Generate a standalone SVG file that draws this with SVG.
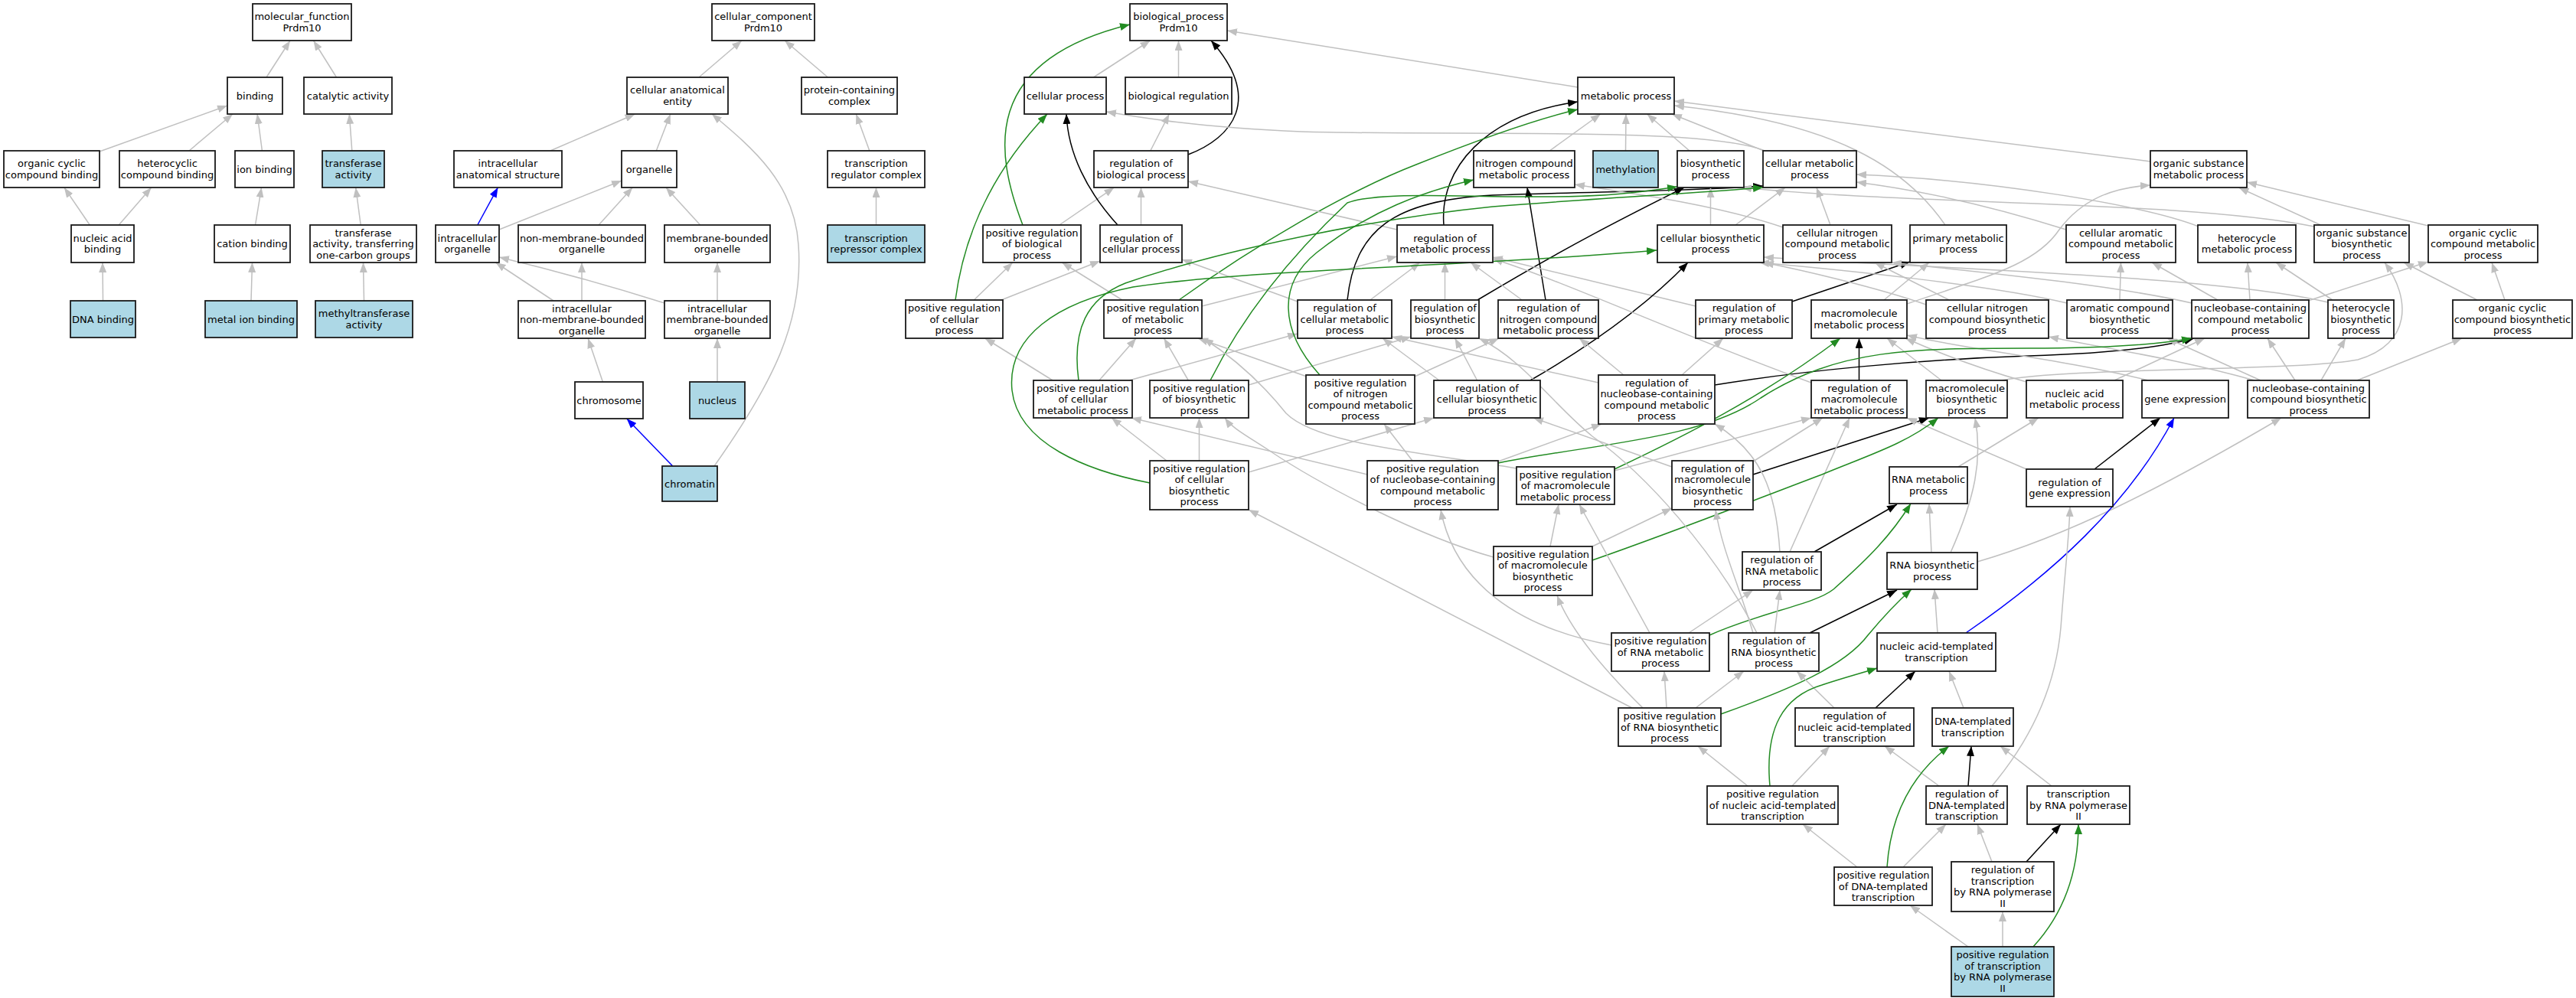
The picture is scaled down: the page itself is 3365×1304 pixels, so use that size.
<svg xmlns="http://www.w3.org/2000/svg" width="3365" height="1304" viewBox="0 0 3365 1304">
<style>
.box{fill:#fff;stroke:#1a1a1a;stroke-width:1.8}
.blue{fill:#add8e6}
text{font-family:"DejaVu Sans","Liberation Sans",sans-serif;font-size:13px;text-anchor:middle;fill:#000}
.e{fill:none;stroke:#c0c0c0;stroke-width:1.5;marker-end:url(#ag)}
.k{fill:none;stroke:#000;stroke-width:1.5;marker-end:url(#ak)}
.gr{fill:none;stroke:#228b22;stroke-width:1.5;marker-end:url(#agr)}
.b{fill:none;stroke:#0000ff;stroke-width:1.5;marker-end:url(#ab)}
</style>
<defs>
<marker id="ag" viewBox="0 0 13 10" refX="13" refY="5" markerWidth="13" markerHeight="10" markerUnits="userSpaceOnUse" orient="auto"><path d="M0,0 L13,5 L0,10 z" fill="#c0c0c0"/></marker>
<marker id="ak" viewBox="0 0 13 10" refX="13" refY="5" markerWidth="13" markerHeight="10" markerUnits="userSpaceOnUse" orient="auto"><path d="M0,0 L13,5 L0,10 z" fill="#000"/></marker>
<marker id="agr" viewBox="0 0 13 10" refX="13" refY="5" markerWidth="13" markerHeight="10" markerUnits="userSpaceOnUse" orient="auto"><path d="M0,0 L13,5 L0,10 z" fill="#228b22"/></marker>
<marker id="ab" viewBox="0 0 13 10" refX="13" refY="5" markerWidth="13" markerHeight="10" markerUnits="userSpaceOnUse" orient="auto"><path d="M0,0 L13,5 L0,10 z" fill="#0000ff"/></marker>
</defs>
<rect width="3365" height="1304" fill="#fff"/>
<g id="edges">
<path class="e" d="M348,101 L379,53"/>
<path class="e" d="M439.5,101 L409.5,53"/>
<path class="e" d="M130,198 L297,138"/>
<path class="e" d="M247,197 L304,149"/>
<path class="e" d="M342.4,197 L336.1,149"/>
<path class="e" d="M459.8,197 L456.3,149"/>
<path class="e" d="M117.3,294 L83.9,245"/>
<path class="e" d="M155.2,294 L197.7,245"/>
<path class="e" d="M333.5,294 L341.6,245"/>
<path class="e" d="M471.2,294 L464.7,245"/>
<path class="e" d="M134.5,393 L134,343"/>
<path class="e" d="M328,393 L329.5,343"/>
<path class="e" d="M475.5,393 L474.5,343"/>
<path class="e" d="M913,101 L969,53"/>
<path class="e" d="M1081.4,101 L1025.1,53"/>
<path class="e" d="M718.9,197 L829.6,149"/>
<path class="e" d="M857.3,197 L875.8,149"/>
<path class="e" d="M1135.8,197 L1118.3,149"/>
<path class="e" d="M1144.5,294 L1144.5,245"/>
<path class="b" d="M623.8,294 L650.4,245"/>
<path class="e" d="M652,300 L812,236"/>
<path class="e" d="M782.1,294 L826.3,245"/>
<path class="e" d="M914.7,294 L869.9,245"/>
<path class="e" d="M723,393 L647.5,343"/>
<path class="e" d="M760,393 L760,343"/>
<path class="e" d="M868,396 Q760,362 652,336"/>
<path class="e" d="M937,393 L937,343"/>
<path class="e" d="M787.4,499 L768.1,442"/>
<path class="e" d="M937,499 L937,442"/>
<path class="b" d="M878.7,609 L818.7,547"/>
<path class="e" d="M933,609 C1010,500 1050,420 1043,320 C1038,240 985,195 930,149"/>
<path class="e" d="M1428.5,101 L1502.5,53"/>
<path class="e" d="M1539.5,101 L1539.5,53"/>
<path class="e" d="M2061,114 L1603,40"/>
<path class="k" d="M1552,202 C1610,180 1650,130 1582,53"/>
<path class="e" d="M1502.8,197 L1527.3,149"/>
<path class="gr" d="M1336,294 C1300,200 1280,80 1476,32"/>
<path class="e" d="M1383.8,294 L1455.4,245"/>
<path class="e" d="M1490.5,294 L1490.5,245"/>
<path class="k" d="M1460,294 C1420,250 1395,200 1393,149"/>
<path class="e" d="M1272.3,392 L1322.8,343"/>
<path class="e" d="M1308,392 L1437,341"/>
<path class="gr" d="M1248,392 C1260,300 1300,220 1368,149"/>
<path class="e" d="M2305,197 C2230,165 1900,178 1700,172 C1560,166 1480,152 1445,146"/>
<path class="e" d="M2024.3,197 L2090.8,149"/>
<path class="e" d="M2123.5,197 L2124,149"/>
<path class="e" d="M2206.9,197 L2151.6,149"/>
<path class="e" d="M2304,197 L2184,149"/>
<path class="e" d="M2809,211 C2700,196 2400,160 2187,132"/>
<path class="e" d="M2541,294 C2490,220 2400,160 2187,138"/>
<path class="k" d="M1886,294 C1880,220 1940,150 2061,133"/>
<path class="gr" d="M1540,392 C1640,320 1760,250 1850,215 C1950,175 2010,155 2061,143"/>
<path class="e" d="M1825,300 L1552,237"/>
<path class="e" d="M1466,392 L1387.3,343"/>
<path class="e" d="M1570,400 L1825,335"/>
<path class="k" d="M1760,392 C1770,300 1820,262 1950,255 C2100,250 2200,250 2303,243"/>
<path class="e" d="M1789.8,392 L1854.9,343"/>
<path class="e" d="M1695,394 L1544,339"/>
<path class="k" d="M1930,392 C2050,320 2130,280 2200,245"/>
<path class="e" d="M1887.5,392 L1887.5,343"/>
<path class="k" d="M2019,392 L1995,245"/>
<path class="e" d="M1988.2,392 L1921.1,343"/>
<path class="k" d="M2341,394 L2495,342"/>
<path class="e" d="M2215,400 L1950,336"/>
<path class="e" d="M2234.5,294 L2234.5,245"/>
<path class="e" d="M2267,294 L2332.1,245"/>
<path class="e" d="M2391,294 L2372.9,245"/>
<path class="e" d="M2329,297 C2250,270 2150,255 2057,241"/>
<path class="e" d="M2699,300 C2620,275 2520,250 2425,238"/>
<path class="e" d="M2872,296 C2800,268 2600,235 2425,228"/>
<path class="e" d="M3031.5,294 L2924.4,245"/>
<path class="e" d="M3023,296 C2850,262 2500,268 2275,245"/>
<path class="e" d="M3172,295 L2935,238"/>
<path class="e" d="M2491,397 C2600,360 2660,345 2690,300 C2720,260 2760,245 2809,242"/>
<path class="e" d="M2461,392 L2520,343"/>
<path class="e" d="M2546.3,392 L2448.8,343"/>
<path class="e" d="M2516,398 C2450,375 2350,352 2304,343"/>
<path class="e" d="M2769,392 L2770.5,343"/>
<path class="e" d="M2700,396 C2600,372 2400,352 2298,343"/>
<path class="e" d="M2897,392 L2811,343"/>
<path class="e" d="M2939,392 L2936,343"/>
<path class="e" d="M3015,393 L3172,342"/>
<path class="e" d="M2863,396 C2750,370 2550,352 2471,343"/>
<path class="e" d="M3047,392 L2973,343"/>
<path class="e" d="M3041,395 C2900,360 2500,350 2304,336"/>
<path class="e" d="M3272,392 L3255,343"/>
<path class="e" d="M3236,392 L3140,343"/>
<path class="e" d="M1435.9,497 L1484.1,442"/>
<path class="e" d="M1375.1,497 L1286.7,442"/>
<path class="e" d="M1475,497 L1695,436"/>
<path class="gr" d="M1409,497 C1400,430 1420,390 1470,370 C1600,325 1800,285 1950,270 C2100,258 2220,252 2303,245"/>
<path class="e" d="M1552.3,497 L1520.5,442"/>
<path class="e" d="M1631,503 L1843,440"/>
<path class="gr" d="M1581,497 C1620,420 1680,340 1760,265 C1800,250 1900,257 2000,257 C2100,258 2150,250 2191,244"/>
<path class="e" d="M1707,492 L1565,442"/>
<path class="e" d="M1848,492 L1958,442"/>
<path class="gr" d="M1724,490 C1670,430 1670,370 1720,330 C1790,275 1860,250 1925,235"/>
<path class="e" d="M1929.6,497 L1900.6,442"/>
<path class="e" d="M1880,497 L1806,442"/>
<path class="k" d="M1999,497 C2080,450 2150,400 2205,343"/>
<path class="e" d="M2121,490 L2063,442"/>
<path class="e" d="M2197,490 L2251,442"/>
<path class="e" d="M2088,500 L1818,440"/>
<path class="k" d="M2240,503 C2350,485 2500,470 2650,465 C2750,462 2820,455 2866,442"/>
<path class="e" d="M2366,500 C2200,440 2050,370 1950,338"/>
<path class="k" d="M2428.5,497 L2428.5,442"/>
<path class="e" d="M2536,497 L2465,442"/>
<path class="e" d="M2615,497 C2700,480 3000,485 3080,470 C3150,450 3150,390 3115,343"/>
<path class="e" d="M2762,497 L2880,442"/>
<path class="e" d="M2647,499 C2580,480 2530,460 2489,442"/>
<path class="e" d="M2806,497 C2700,470 2560,455 2491,438"/>
<path class="e" d="M2998,497 L2962,442"/>
<path class="e" d="M3032,497 L3064,442"/>
<path class="e" d="M3079,497 L3216,442"/>
<path class="e" d="M2953,497 L2831,442"/>
<path class="e" d="M2945,497 C2850,470 2750,455 2676,440"/>
<path class="e" d="M1524,602 L1452,546"/>
<path class="e" d="M1566.5,602 L1566.5,546"/>
<path class="e" d="M1631,617 L1873,546"/>
<path class="gr" d="M1502,631 C1420,615 1330,580 1322,510 C1315,440 1380,395 1480,375 C1650,350 1900,350 2164,327"/>
<path class="e" d="M1786,620 L1478,546"/>
<path class="e" d="M1845,602 L1808,554"/>
<path class="e" d="M1957,603 L2092,554"/>
<path class="gr" d="M1957,605 C2080,580 2220,575 2300,520 C2400,455 2500,455 2650,455 C2750,455 2820,450 2863,442"/>
<path class="e" d="M1981,612 C1850,590 1720,580 1680,540 C1640,490 1600,460 1572,442"/>
<path class="e" d="M2109,615 L2366,546"/>
<path class="gr" d="M2109,613 C2200,570 2300,520 2404,442"/>
<path class="e" d="M2290,603 L2381,546"/>
<path class="e" d="M2184,610 L2003,546"/>
<path class="k" d="M2290,620 L2520,546"/>
<path class="e" d="M2558,610 L2663,546"/>
<path class="e" d="M2325,721 C2320,640 2300,590 2240,554"/>
<path class="e" d="M2338,721 L2416,546"/>
<path class="k" d="M2370,721 L2478,659"/>
<path class="e" d="M2647,613 L2491,546"/>
<path class="k" d="M2736,613 L2822,546"/>
<path class="e" d="M2025,714 L2036,659"/>
<path class="e" d="M2080,714 L2184,664"/>
<path class="gr" d="M2080,732 C2200,690 2300,650 2380,620 C2440,595 2490,580 2532,546"/>
<path class="e" d="M1951,728 C1850,700 1720,630 1660,590 C1630,570 1610,560 1600,546"/>
<path class="e" d="M2523,722 L2520,658"/>
<path class="e" d="M2548,722 C2580,650 2590,600 2580,546"/>
<path class="e" d="M2583,734 C2700,700 2820,640 2980,546"/>
<path class="e" d="M2206,827 L2290,771"/>
<path class="e" d="M2105,843 C1980,820 1900,760 1882,666"/>
<path class="e" d="M2155,827 L2063,659"/>
<path class="gr" d="M2233,830 C2300,800 2370,790 2395,770 C2440,730 2470,700 2496,658"/>
<path class="e" d="M2318,827 L2325,771"/>
<path class="e" d="M2290,827 C2270,760 2250,720 2241,666"/>
<path class="e" d="M2295,827 C2240,720 2150,620 2080,570 C2030,530 1990,470 1932,442"/>
<path class="k" d="M2364,827 L2478,771"/>
<path class="b" d="M2568,827 C2680,750 2780,660 2840,546"/>
<path class="e" d="M2531,827 L2527,770"/>
<path class="e" d="M2177,925 L2174,877"/>
<path class="e" d="M2215,925 L2278,877"/>
<path class="e" d="M2146,925 C2090,870 2050,820 2034,778"/>
<path class="e" d="M2132,925 L1631,666"/>
<path class="gr" d="M2248,933 C2340,900 2410,870 2440,830 C2465,800 2480,785 2497,770"/>
<path class="e" d="M2396,925 L2347,877"/>
<path class="k" d="M2450,925 L2502,877"/>
<path class="e" d="M2565,925 L2546,877"/>
<path class="e" d="M2283,1027 L2218,975"/>
<path class="e" d="M2341,1027 L2390,975"/>
<path class="gr" d="M2312,1027 C2305,950 2330,910 2380,895 C2410,885 2430,880 2452,873"/>
<path class="e" d="M2533,1027 L2462,975"/>
<path class="k" d="M2571,1027 L2575,975"/>
<path class="e" d="M2602,1027 C2650,970 2685,900 2692,820 C2698,740 2703,700 2704,662"/>
<path class="e" d="M2680,1027 L2613,975"/>
<path class="e" d="M2426,1133 L2355,1077"/>
<path class="e" d="M2486,1133 L2542,1077"/>
<path class="gr" d="M2465,1133 C2470,1060 2500,1010 2546,975"/>
<path class="e" d="M2602,1126 L2583,1077"/>
<path class="k" d="M2647,1126 L2692,1077"/>
<path class="e" d="M2571,1237 L2495,1183"/>
<path class="e" d="M2616,1237 L2616,1191"/>
<path class="gr" d="M2656,1237 C2690,1200 2715,1150 2715,1077"/>
</g>
<g id="nodes">
<g id="n_mf"><rect class="box" x="330" y="5" width="129" height="48"/><text x="394.5" y="26.35">molecular_function<tspan x="394.5" dy="14.5">Prdm10</tspan></text></g>
<g id="n_binding"><rect class="box" x="297" y="101" width="72" height="48"/><text x="333" y="129.6">binding</text></g>
<g id="n_catalytic"><rect class="box" x="397" y="101" width="115" height="48"/><text x="454.5" y="129.6">catalytic activity</text></g>
<g id="n_ocb"><rect class="box" x="5" y="197" width="125" height="48"/><text x="67.5" y="218.35">organic cyclic<tspan x="67.5" dy="14.5">compound binding</tspan></text></g>
<g id="n_hcb"><rect class="box" x="156" y="197" width="125" height="48"/><text x="218.5" y="218.35">heterocyclic<tspan x="218.5" dy="14.5">compound binding</tspan></text></g>
<g id="n_ionb"><rect class="box" x="307" y="197" width="77" height="48"/><text x="345.5" y="225.6">ion binding</text></g>
<g id="n_transferase"><rect class="box blue" x="421" y="197" width="81" height="48"/><text x="461.5" y="218.35">transferase<tspan x="461.5" dy="14.5">activity</tspan></text></g>
<g id="n_nab"><rect class="box" x="93" y="294" width="82" height="49"/><text x="134" y="315.85">nucleic acid<tspan x="134" dy="14.5">binding</tspan></text></g>
<g id="n_cationb"><rect class="box" x="280" y="294" width="99" height="49"/><text x="329.5" y="323.1">cation binding</text></g>
<g id="n_tr1c"><rect class="box" x="405" y="294" width="139" height="49"/><text x="474.5" y="308.6">transferase<tspan x="474.5" dy="14.5">activity, transferring</tspan><tspan x="474.5" dy="14.5">one-carbon groups</tspan></text></g>
<g id="n_dnab"><rect class="box blue" x="92" y="393" width="85" height="48"/><text x="134.5" y="421.6">DNA binding</text></g>
<g id="n_metalion"><rect class="box blue" x="268" y="393" width="120" height="48"/><text x="328" y="421.6">metal ion binding</text></g>
<g id="n_methyltr"><rect class="box blue" x="412" y="393" width="127" height="48"/><text x="475.5" y="414.35">methyltransferase<tspan x="475.5" dy="14.5">activity</tspan></text></g>
<g id="n_cc"><rect class="box" x="930" y="5" width="134" height="48"/><text x="997" y="26.35">cellular_component<tspan x="997" dy="14.5">Prdm10</tspan></text></g>
<g id="n_cae"><rect class="box" x="819" y="101" width="132" height="48"/><text x="885" y="122.35">cellular anatomical<tspan x="885" dy="14.5">entity</tspan></text></g>
<g id="n_pcc"><rect class="box" x="1047" y="101" width="125" height="48"/><text x="1109.5" y="122.35">protein-containing<tspan x="1109.5" dy="14.5">complex</tspan></text></g>
<g id="n_ias"><rect class="box" x="593" y="197" width="141" height="48"/><text x="663.5" y="218.35">intracellular<tspan x="663.5" dy="14.5">anatomical structure</tspan></text></g>
<g id="n_organelle"><rect class="box" x="812" y="197" width="72" height="48"/><text x="848" y="225.6">organelle</text></g>
<g id="n_trc"><rect class="box" x="1081" y="197" width="127" height="48"/><text x="1144.5" y="218.35">transcription<tspan x="1144.5" dy="14.5">regulator complex</tspan></text></g>
<g id="n_trrc"><rect class="box blue" x="1081" y="294" width="127" height="49"/><text x="1144.5" y="315.85">transcription<tspan x="1144.5" dy="14.5">repressor complex</tspan></text></g>
<g id="n_io"><rect class="box" x="569" y="294" width="83" height="49"/><text x="610.5" y="315.85">intracellular<tspan x="610.5" dy="14.5">organelle</tspan></text></g>
<g id="n_nmbo"><rect class="box" x="677" y="294" width="166" height="49"/><text x="760" y="315.85">non-membrane-bounded<tspan x="760" dy="14.5">organelle</tspan></text></g>
<g id="n_mbo"><rect class="box" x="868" y="294" width="138" height="49"/><text x="937" y="315.85">membrane-bounded<tspan x="937" dy="14.5">organelle</tspan></text></g>
<g id="n_inmbo"><rect class="box" x="677" y="393" width="166" height="49"/><text x="760" y="407.6">intracellular<tspan x="760" dy="14.5">non-membrane-bounded</tspan><tspan x="760" dy="14.5">organelle</tspan></text></g>
<g id="n_imbo"><rect class="box" x="868" y="393" width="138" height="49"/><text x="937" y="407.6">intracellular<tspan x="937" dy="14.5">membrane-bounded</tspan><tspan x="937" dy="14.5">organelle</tspan></text></g>
<g id="n_chromosome"><rect class="box" x="751" y="499" width="89" height="48"/><text x="795.5" y="527.6">chromosome</text></g>
<g id="n_nucleus"><rect class="box blue" x="901" y="499" width="72" height="48"/><text x="937" y="527.6">nucleus</text></g>
<g id="n_chromatin"><rect class="box blue" x="865" y="609" width="72" height="46"/><text x="901" y="636.6">chromatin</text></g>
<g id="n_bp"><rect class="box" x="1476" y="5" width="127" height="48"/><text x="1539.5" y="26.35">biological_process<tspan x="1539.5" dy="14.5">Prdm10</tspan></text></g>
<g id="n_cellproc"><rect class="box" x="1338" y="101" width="107" height="48"/><text x="1391.5" y="129.6">cellular process</text></g>
<g id="n_bioreg"><rect class="box" x="1470" y="101" width="139" height="48"/><text x="1539.5" y="129.6">biological regulation</text></g>
<g id="n_metproc"><rect class="box" x="2061" y="101" width="126" height="48"/><text x="2124" y="129.6">metabolic process</text></g>
<g id="n_regbio"><rect class="box" x="1429" y="197" width="123" height="48"/><text x="1490.5" y="218.35">regulation of<tspan x="1490.5" dy="14.5">biological process</tspan></text></g>
<g id="n_ncmp"><rect class="box" x="1925" y="197" width="132" height="48"/><text x="1991" y="218.35">nitrogen compound<tspan x="1991" dy="14.5">metabolic process</tspan></text></g>
<g id="n_methylation"><rect class="box blue" x="2081" y="197" width="85" height="48"/><text x="2123.5" y="225.6">methylation</text></g>
<g id="n_biosyn"><rect class="box" x="2191" y="197" width="87" height="48"/><text x="2234.5" y="218.35">biosynthetic<tspan x="2234.5" dy="14.5">process</tspan></text></g>
<g id="n_cellmet"><rect class="box" x="2303" y="197" width="122" height="48"/><text x="2364" y="218.35">cellular metabolic<tspan x="2364" dy="14.5">process</tspan></text></g>
<g id="n_osmp"><rect class="box" x="2809" y="197" width="126" height="48"/><text x="2872" y="218.35">organic substance<tspan x="2872" dy="14.5">metabolic process</tspan></text></g>
<g id="n_prbio"><rect class="box" x="1284" y="294" width="128" height="49"/><text x="1348" y="308.6">positive regulation<tspan x="1348" dy="14.5">of biological</tspan><tspan x="1348" dy="14.5">process</tspan></text></g>
<g id="n_regcell"><rect class="box" x="1437" y="294" width="107" height="49"/><text x="1490.5" y="315.85">regulation of<tspan x="1490.5" dy="14.5">cellular process</tspan></text></g>
<g id="n_regmet"><rect class="box" x="1825" y="294" width="125" height="49"/><text x="1887.5" y="315.85">regulation of<tspan x="1887.5" dy="14.5">metabolic process</tspan></text></g>
<g id="n_cellbiosyn"><rect class="box" x="2165" y="294" width="139" height="49"/><text x="2234.5" y="315.85">cellular biosynthetic<tspan x="2234.5" dy="14.5">process</tspan></text></g>
<g id="n_cncmp"><rect class="box" x="2329" y="294" width="142" height="49"/><text x="2400" y="308.6">cellular nitrogen<tspan x="2400" dy="14.5">compound metabolic</tspan><tspan x="2400" dy="14.5">process</tspan></text></g>
<g id="n_primet"><rect class="box" x="2495" y="294" width="126" height="49"/><text x="2558" y="315.85">primary metabolic<tspan x="2558" dy="14.5">process</tspan></text></g>
<g id="n_camp"><rect class="box" x="2699" y="294" width="143" height="49"/><text x="2770.5" y="308.6">cellular aromatic<tspan x="2770.5" dy="14.5">compound metabolic</tspan><tspan x="2770.5" dy="14.5">process</tspan></text></g>
<g id="n_hetmet"><rect class="box" x="2871" y="294" width="128" height="49"/><text x="2935" y="315.85">heterocycle<tspan x="2935" dy="14.5">metabolic process</tspan></text></g>
<g id="n_osbp"><rect class="box" x="3023" y="294" width="124" height="49"/><text x="3085" y="308.6">organic substance<tspan x="3085" dy="14.5">biosynthetic</tspan><tspan x="3085" dy="14.5">process</tspan></text></g>
<g id="n_occmp"><rect class="box" x="3172" y="294" width="143" height="49"/><text x="3243.5" y="308.6">organic cyclic<tspan x="3243.5" dy="14.5">compound metabolic</tspan><tspan x="3243.5" dy="14.5">process</tspan></text></g>
<g id="n_prcell"><rect class="box" x="1183" y="392" width="127" height="50"/><text x="1246.5" y="407.1">positive regulation<tspan x="1246.5" dy="14.5">of cellular</tspan><tspan x="1246.5" dy="14.5">process</tspan></text></g>
<g id="n_prmet"><rect class="box" x="1442" y="392" width="128" height="50"/><text x="1506" y="407.1">positive regulation<tspan x="1506" dy="14.5">of metabolic</tspan><tspan x="1506" dy="14.5">process</tspan></text></g>
<g id="n_regcellmet"><rect class="box" x="1695" y="392" width="123" height="50"/><text x="1756.5" y="407.1">regulation of<tspan x="1756.5" dy="14.5">cellular metabolic</tspan><tspan x="1756.5" dy="14.5">process</tspan></text></g>
<g id="n_regbiosyn"><rect class="box" x="1843" y="392" width="89" height="50"/><text x="1887.5" y="407.1">regulation of<tspan x="1887.5" dy="14.5">biosynthetic</tspan><tspan x="1887.5" dy="14.5">process</tspan></text></g>
<g id="n_regncmp"><rect class="box" x="1957" y="392" width="131" height="50"/><text x="2022.5" y="407.1">regulation of<tspan x="2022.5" dy="14.5">nitrogen compound</tspan><tspan x="2022.5" dy="14.5">metabolic process</tspan></text></g>
<g id="n_regprimet"><rect class="box" x="2215" y="392" width="126" height="50"/><text x="2278" y="407.1">regulation of<tspan x="2278" dy="14.5">primary metabolic</tspan><tspan x="2278" dy="14.5">process</tspan></text></g>
<g id="n_macmet"><rect class="box" x="2366" y="392" width="125" height="50"/><text x="2428.5" y="414.35">macromolecule<tspan x="2428.5" dy="14.5">metabolic process</tspan></text></g>
<g id="n_cncbp"><rect class="box" x="2516" y="392" width="160" height="50"/><text x="2596" y="407.1">cellular nitrogen<tspan x="2596" dy="14.5">compound biosynthetic</tspan><tspan x="2596" dy="14.5">process</tspan></text></g>
<g id="n_acbp"><rect class="box" x="2700" y="392" width="138" height="50"/><text x="2769" y="407.1">aromatic compound<tspan x="2769" dy="14.5">biosynthetic</tspan><tspan x="2769" dy="14.5">process</tspan></text></g>
<g id="n_nccmp"><rect class="box" x="2863" y="392" width="153" height="50"/><text x="2939.5" y="407.1">nucleobase-containing<tspan x="2939.5" dy="14.5">compound metabolic</tspan><tspan x="2939.5" dy="14.5">process</tspan></text></g>
<g id="n_hetbio"><rect class="box" x="3041" y="392" width="86" height="50"/><text x="3084" y="407.1">heterocycle<tspan x="3084" dy="14.5">biosynthetic</tspan><tspan x="3084" dy="14.5">process</tspan></text></g>
<g id="n_occbp"><rect class="box" x="3204" y="392" width="156" height="50"/><text x="3282" y="407.1">organic cyclic<tspan x="3282" dy="14.5">compound biosynthetic</tspan><tspan x="3282" dy="14.5">process</tspan></text></g>
<g id="n_prcellmet"><rect class="box" x="1350" y="497" width="129" height="49"/><text x="1414.5" y="511.6">positive regulation<tspan x="1414.5" dy="14.5">of cellular</tspan><tspan x="1414.5" dy="14.5">metabolic process</tspan></text></g>
<g id="n_prbiosyn"><rect class="box" x="1502" y="497" width="129" height="49"/><text x="1566.5" y="511.6">positive regulation<tspan x="1566.5" dy="14.5">of biosynthetic</tspan><tspan x="1566.5" dy="14.5">process</tspan></text></g>
<g id="n_prncmp"><rect class="box" x="1706" y="490" width="142" height="64"/><text x="1777" y="504.85">positive regulation<tspan x="1777" dy="14.5">of nitrogen</tspan><tspan x="1777" dy="14.5">compound metabolic</tspan><tspan x="1777" dy="14.5">process</tspan></text></g>
<g id="n_regcellbiosyn"><rect class="box" x="1873" y="497" width="139" height="49"/><text x="1942.5" y="511.6">regulation of<tspan x="1942.5" dy="14.5">cellular biosynthetic</tspan><tspan x="1942.5" dy="14.5">process</tspan></text></g>
<g id="n_regnccmp"><rect class="box" x="2088" y="490" width="152" height="64"/><text x="2164" y="504.85">regulation of<tspan x="2164" dy="14.5">nucleobase-containing</tspan><tspan x="2164" dy="14.5">compound metabolic</tspan><tspan x="2164" dy="14.5">process</tspan></text></g>
<g id="n_regmacmet"><rect class="box" x="2366" y="497" width="125" height="49"/><text x="2428.5" y="511.6">regulation of<tspan x="2428.5" dy="14.5">macromolecule</tspan><tspan x="2428.5" dy="14.5">metabolic process</tspan></text></g>
<g id="n_macbio"><rect class="box" x="2516" y="497" width="106" height="49"/><text x="2569" y="511.6">macromolecule<tspan x="2569" dy="14.5">biosynthetic</tspan><tspan x="2569" dy="14.5">process</tspan></text></g>
<g id="n_nametp"><rect class="box" x="2647" y="497" width="126" height="49"/><text x="2710" y="518.85">nucleic acid<tspan x="2710" dy="14.5">metabolic process</tspan></text></g>
<g id="n_geneexp"><rect class="box" x="2798" y="497" width="113" height="49"/><text x="2854.5" y="526.1">gene expression</text></g>
<g id="n_ncbp"><rect class="box" x="2936" y="497" width="159" height="49"/><text x="3015.5" y="511.6">nucleobase-containing<tspan x="3015.5" dy="14.5">compound biosynthetic</tspan><tspan x="3015.5" dy="14.5">process</tspan></text></g>
<g id="n_prcellbiosyn"><rect class="box" x="1502" y="602" width="129" height="64"/><text x="1566.5" y="616.85">positive regulation<tspan x="1566.5" dy="14.5">of cellular</tspan><tspan x="1566.5" dy="14.5">biosynthetic</tspan><tspan x="1566.5" dy="14.5">process</tspan></text></g>
<g id="n_prnccmp"><rect class="box" x="1786" y="602" width="171" height="64"/><text x="1871.5" y="616.85">positive regulation<tspan x="1871.5" dy="14.5">of nucleobase-containing</tspan><tspan x="1871.5" dy="14.5">compound metabolic</tspan><tspan x="1871.5" dy="14.5">process</tspan></text></g>
<g id="n_prmacmet"><rect class="box" x="1981" y="610" width="128" height="49"/><text x="2045" y="624.6">positive regulation<tspan x="2045" dy="14.5">of macromolecule</tspan><tspan x="2045" dy="14.5">metabolic process</tspan></text></g>
<g id="n_regmacbio"><rect class="box" x="2184" y="602" width="106" height="64"/><text x="2237" y="616.85">regulation of<tspan x="2237" dy="14.5">macromolecule</tspan><tspan x="2237" dy="14.5">biosynthetic</tspan><tspan x="2237" dy="14.5">process</tspan></text></g>
<g id="n_rnamet"><rect class="box" x="2468" y="610" width="102" height="48"/><text x="2519" y="631.35">RNA metabolic<tspan x="2519" dy="14.5">process</tspan></text></g>
<g id="n_reggeneexp"><rect class="box" x="2647" y="613" width="113" height="49"/><text x="2703.5" y="634.85">regulation of<tspan x="2703.5" dy="14.5">gene expression</tspan></text></g>
<g id="n_prmacbio"><rect class="box" x="1951" y="714" width="129" height="64"/><text x="2015.5" y="728.85">positive regulation<tspan x="2015.5" dy="14.5">of macromolecule</tspan><tspan x="2015.5" dy="14.5">biosynthetic</tspan><tspan x="2015.5" dy="14.5">process</tspan></text></g>
<g id="n_regrnamet"><rect class="box" x="2276" y="721" width="103" height="50"/><text x="2327.5" y="736.1">regulation of<tspan x="2327.5" dy="14.5">RNA metabolic</tspan><tspan x="2327.5" dy="14.5">process</tspan></text></g>
<g id="n_rnabio"><rect class="box" x="2465" y="722" width="118" height="48"/><text x="2524" y="743.35">RNA biosynthetic<tspan x="2524" dy="14.5">process</tspan></text></g>
<g id="n_prrnamet"><rect class="box" x="2105" y="827" width="128" height="50"/><text x="2169" y="842.1">positive regulation<tspan x="2169" dy="14.5">of RNA metabolic</tspan><tspan x="2169" dy="14.5">process</tspan></text></g>
<g id="n_regrnabio"><rect class="box" x="2258" y="827" width="118" height="50"/><text x="2317" y="842.1">regulation of<tspan x="2317" dy="14.5">RNA biosynthetic</tspan><tspan x="2317" dy="14.5">process</tspan></text></g>
<g id="n_natt"><rect class="box" x="2452" y="827" width="155" height="50"/><text x="2529.5" y="849.35">nucleic acid-templated<tspan x="2529.5" dy="14.5">transcription</tspan></text></g>
<g id="n_prrnabio"><rect class="box" x="2114" y="925" width="134" height="50"/><text x="2181" y="940.1">positive regulation<tspan x="2181" dy="14.5">of RNA biosynthetic</tspan><tspan x="2181" dy="14.5">process</tspan></text></g>
<g id="n_regnatt"><rect class="box" x="2345" y="925" width="155" height="50"/><text x="2422.5" y="940.1">regulation of<tspan x="2422.5" dy="14.5">nucleic acid-templated</tspan><tspan x="2422.5" dy="14.5">transcription</tspan></text></g>
<g id="n_dtt"><rect class="box" x="2524" y="925" width="106" height="50"/><text x="2577" y="947.35">DNA-templated<tspan x="2577" dy="14.5">transcription</tspan></text></g>
<g id="n_prnatt"><rect class="box" x="2230" y="1027" width="171" height="50"/><text x="2315.5" y="1042.1">positive regulation<tspan x="2315.5" dy="14.5">of nucleic acid-templated</tspan><tspan x="2315.5" dy="14.5">transcription</tspan></text></g>
<g id="n_regdtt"><rect class="box" x="2516" y="1027" width="106" height="50"/><text x="2569" y="1042.1">regulation of<tspan x="2569" dy="14.5">DNA-templated</tspan><tspan x="2569" dy="14.5">transcription</tspan></text></g>
<g id="n_trp2"><rect class="box" x="2648" y="1027" width="134" height="50"/><text x="2715" y="1042.1">transcription<tspan x="2715" dy="14.5">by RNA polymerase</tspan><tspan x="2715" dy="14.5">II</tspan></text></g>
<g id="n_prdtt"><rect class="box" x="2396" y="1133" width="128" height="50"/><text x="2460" y="1148.1">positive regulation<tspan x="2460" dy="14.5">of DNA-templated</tspan><tspan x="2460" dy="14.5">transcription</tspan></text></g>
<g id="n_regtrp2"><rect class="box" x="2549" y="1126" width="134" height="65"/><text x="2616" y="1141.35">regulation of<tspan x="2616" dy="14.5">transcription</tspan><tspan x="2616" dy="14.5">by RNA polymerase</tspan><tspan x="2616" dy="14.5">II</tspan></text></g>
<g id="n_prtrp2"><rect class="box blue" x="2549" y="1237" width="134" height="65"/><text x="2616" y="1252.35">positive regulation<tspan x="2616" dy="14.5">of transcription</tspan><tspan x="2616" dy="14.5">by RNA polymerase</tspan><tspan x="2616" dy="14.5">II</tspan></text></g>
</g>
</svg>
